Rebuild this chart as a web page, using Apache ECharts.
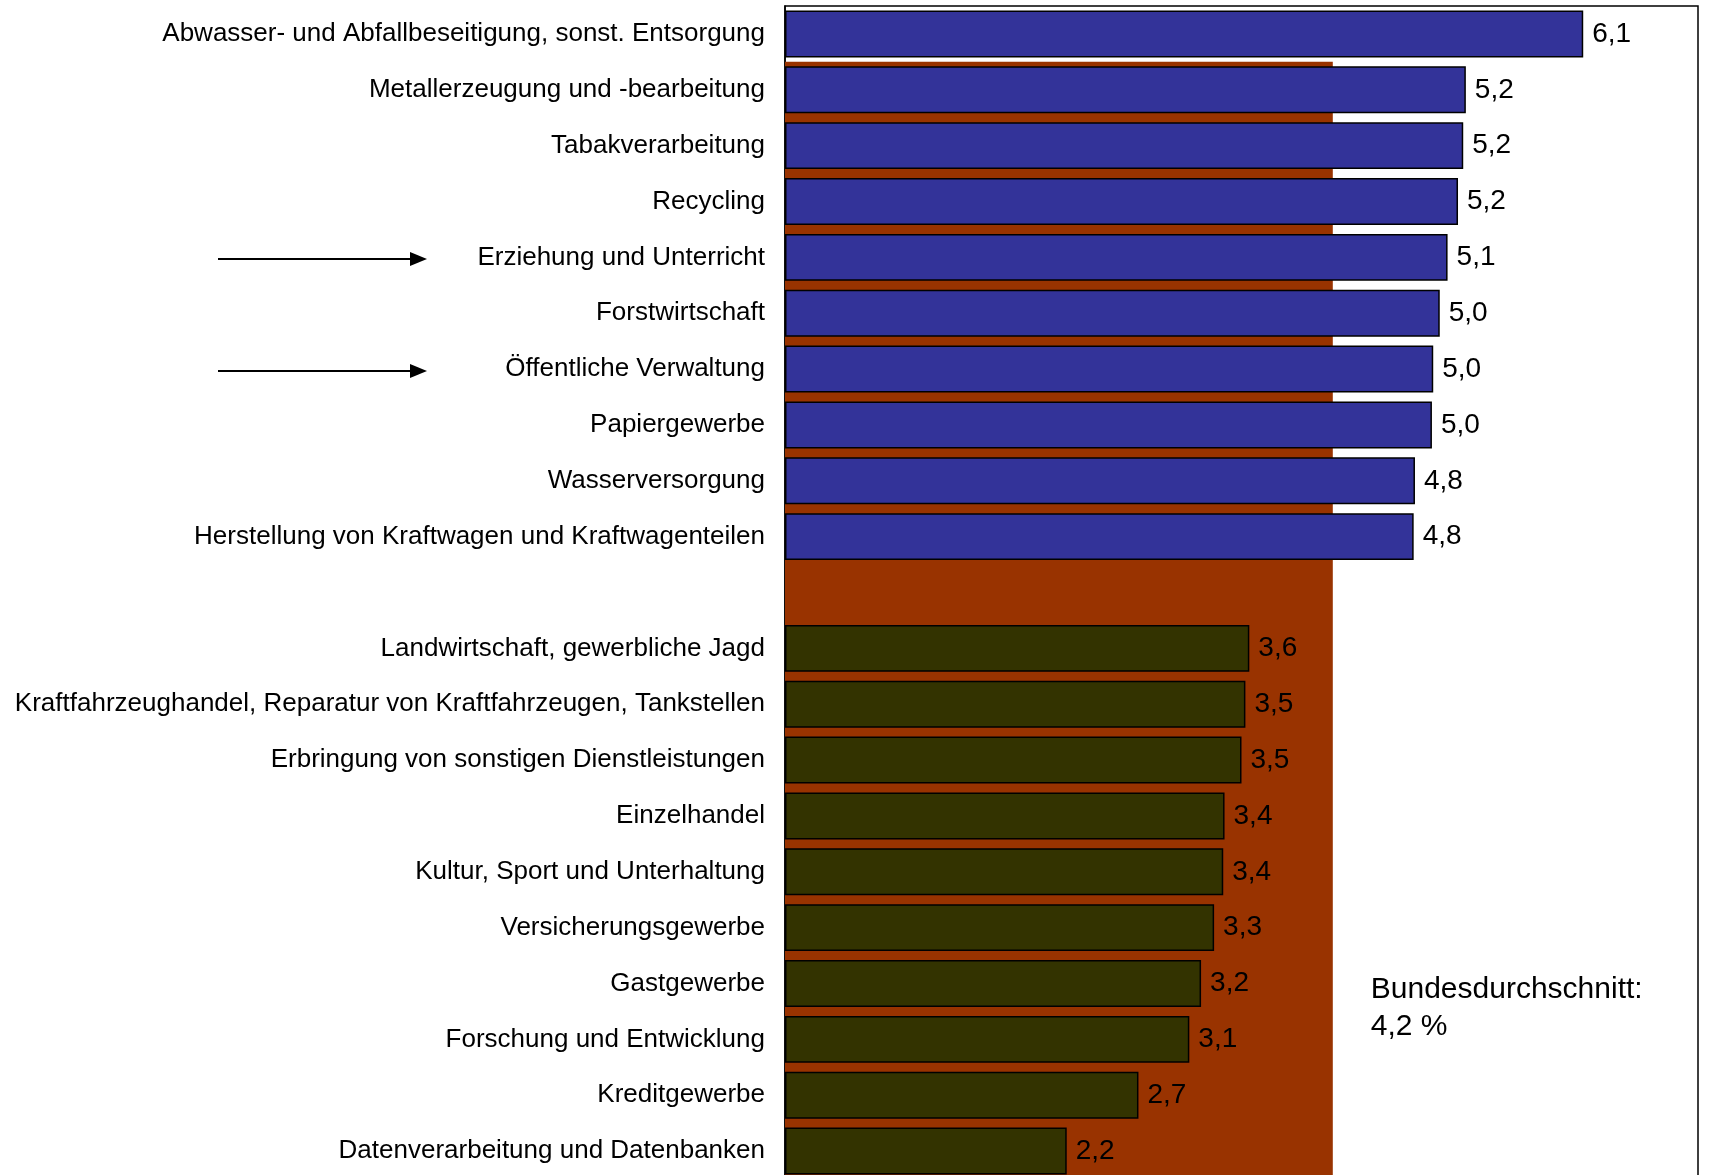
<!DOCTYPE html>
<html>
<head>
<meta charset="utf-8">
<script src="https://cdn.jsdelivr.net/npm/echarts@6/dist/echarts.min.js"></script>
<style>
  html, body { margin: 0; padding: 0; background: #ffffff; overflow: hidden; }
  #chart { width: 1712px; height: 1190px; }
</style>
</head>
<body>
<div id="chart"></div>
<script>
// Branches above the national average (top block)
const topCategories = [
  'Abwasser- und Abfallbeseitigung, sonst. Entsorgung',
  'Metallerzeugung und -bearbeitung',
  'Tabakverarbeitung',
  'Recycling',
  'Erziehung und Unterricht',
  'Forstwirtschaft',
  'Öffentliche Verwaltung',
  'Papiergewerbe',
  'Wasserversorgung',
  'Herstellung von Kraftwagen und Kraftwagenteilen'
];
const topValues = [6.12, 5.22, 5.2, 5.16, 5.08, 5.02, 4.97, 4.96, 4.83, 4.82];

// Branches below the national average (bottom block)
const bottomCategories = [
  'Landwirtschaft, gewerbliche Jagd',
  'Kraftfahrzeughandel, Reparatur von Kraftfahrzeugen, Tankstellen',
  'Erbringung von sonstigen Dienstleistungen',
  'Einzelhandel',
  'Kultur, Sport und Unterhaltung',
  'Versicherungsgewerbe',
  'Gastgewerbe',
  'Forschung und Entwicklung',
  'Kreditgewerbe',
  'Datenverarbeitung und Datenbanken'
];
const bottomValues = [3.56, 3.53, 3.5, 3.37, 3.36, 3.29, 3.19, 3.1, 2.71, 2.16];

// National average
const averageValue = 4.2;
const averageText = 'Bundesdurchschnitt:\n4,2 %';

// Branches marked with an arrow
const markedCategories = ['Erziehung und Unterricht', 'Öffentliche Verwaltung'];

const BLUE = '#333399';
const OLIVE = '#333300';
const RUST = '#993300';
const FONT = '"Liberation Sans", Arial, sans-serif';

// one empty slot separates the two blocks
const categories = [...topCategories, ' ', ...bottomCategories];

const barData = [
  ...topValues.map(v => ({ value: v, itemStyle: { color: BLUE } })),
  { value: '-' },
  ...bottomValues.map(v => ({ value: v, itemStyle: { color: OLIVE } }))
];

const chart = echarts.init(document.getElementById('chart'), null, { renderer: 'canvas' });

const fmt = v => v.toFixed(1).replace('.', ',');

chart.setOption({
  animation: false,
  backgroundColor: '#ffffff',
  textStyle: { fontFamily: FONT },
  grid: {
    left: 785,
    top: 6,
    width: 913,
    height: 1173,
    show: true,
    borderColor: '#000000',
    borderWidth: 1.5,
    backgroundColor: 'transparent'
  },
  xAxis: {
    type: 'value',
    min: 0,
    max: 7,
    show: false
  },
  yAxis: [
    {
      type: 'category',
      data: categories,
      inverse: true,
      axisLine: { show: true, lineStyle: { color: '#000000', width: 1.5 } },
      axisTick: { show: false },
      axisLabel: {
        color: '#000000',
        fontSize: 26,
        fontFamily: FONT,
        margin: 20
      }
    },
    {
      // slot-boundary scale used for the average band
      type: 'value',
      min: 0,
      max: categories.length,
      inverse: true,
      show: false
    }
  ],
  series: [
    {
      name: 'Bundesdurchschnitt',
      type: 'line',
      yAxisIndex: 1,
      data: [[0, 1]],
      symbol: 'none',
      lineStyle: { opacity: 0 },
      silent: true,
      z: 1,
      markArea: {
        silent: true,
        itemStyle: { color: RUST, opacity: 1 },
        data: [[{ coord: [0, 1] }, { coord: [averageValue, categories.length] }]]
      }
    },
    {
      name: 'Anteil',
      type: 'bar',
      yAxisIndex: 0,
      data: barData,
      barCategoryGap: '16%',
      itemStyle: { borderColor: '#000000', borderWidth: 1.5 },
      label: {
        show: true,
        position: 'right',
        distance: 9,
        color: '#000000',
        fontSize: 28,
        fontFamily: FONT,
        formatter: p => fmt(p.value)
      },
      z: 3
    }
  ]
});

// arrows pointing at the marked branches, plus the average note
const graphics = [];
markedCategories.forEach(name => {
  const y = Math.round(chart.convertToPixel({ yAxisIndex: 0 }, name)) + 2;
  graphics.push({
    type: 'line',
    shape: { x1: 218, y1: y, x2: 414, y2: y },
    style: { stroke: '#000000', lineWidth: 2 }
  });
  graphics.push({
    type: 'polygon',
    shape: { points: [[410, y - 7], [427, y], [410, y + 7]] },
    style: { fill: '#000000' }
  });
});
const avgX = chart.convertToPixel({ xAxisIndex: 0 }, averageValue);
graphics.push({
  type: 'text',
  left: avgX + 38,
  top: 971,
  style: {
    text: averageText,
    fill: '#000000',
    font: '30px ' + FONT,
    lineHeight: 37
  }
});
chart.setOption({ graphic: graphics });
</script>
</body>
</html>
